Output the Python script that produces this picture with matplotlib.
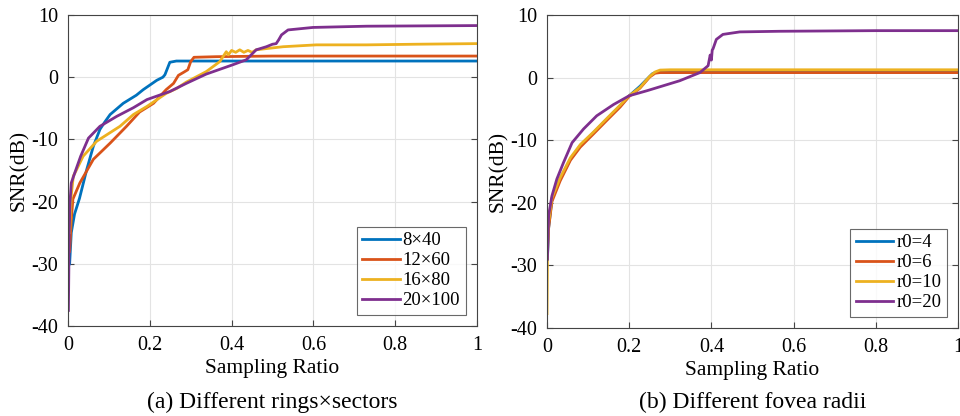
import matplotlib.pyplot as plt

plt.rcParams['font.family'] = ['Liberation Serif', 'DejaVu Serif']
plt.rcParams['axes.unicode_minus'] = False

colors = ['#0072BD', '#D95319', '#EDB120', '#7E2F8E']

# (a) different rings x sectors
a_labels = ['8×40', '12×60', '16×80', '20×100']
a_x_8x40 = [0.004, 0.008, 0.016, 0.028, 0.046, 0.062, 0.078, 0.09, 0.103, 0.135, 0.167, 0.184,
            0.217, 0.232, 0.237, 0.249, 0.265, 0.4, 0.6, 0.8, 1.0]
a_y_8x40 = [-30, -25, -22, -19.5, -14.8, -11.1, -8.4, -7.2, -6.0, -4.2, -2.9, -2.0,
            -0.5, 0.0, 0.4, 2.4, 2.6, 2.6, 2.6, 2.6, 2.6]
a_x_12x60 = [0.004, 0.008, 0.012, 0.029, 0.062, 0.103, 0.143, 0.175, 0.209, 0.24, 0.258, 0.27,
             0.283, 0.293, 0.3, 0.308, 0.363, 0.5, 0.7, 1.0]
a_y_12x60 = [-28, -23, -19.6, -17.0, -13.2, -10.6, -7.9, -5.6, -4.2, -2.0, -1.0, 0.3,
             0.8, 1.2, 2.5, 3.2, 3.3, 3.4, 3.4, 3.4]
a_x_16x80 = [0.004, 0.008, 0.013, 0.02, 0.037, 0.07, 0.127, 0.16, 0.193, 0.24, 0.266, 0.289,
             0.338, 0.371, 0.38, 0.387, 0.392, 0.4, 0.41, 0.42, 0.43, 0.44, 0.45, 0.46,
             0.485, 0.526, 0.607, 0.73, 0.85, 1.0]
a_y_16x80 = [-25, -19, -15.9, -15.0, -12.7, -10.3, -7.9, -6.0, -4.7, -2.6, -1.8, -0.8,
             0.9, 2.5, 3.4, 4.1, 3.6, 4.3, 4.0, 4.4, 4.0, 4.3, 4.0, 4.4,
             4.6, 4.9, 5.2, 5.2, 5.3, 5.4]
a_x_20x100 = [0.001, 0.003, 0.005, 0.008, 0.017, 0.031, 0.05, 0.078, 0.119, 0.16, 0.193, 0.249,
              0.289, 0.338, 0.403, 0.436, 0.46, 0.485, 0.5, 0.509, 0.515, 0.522, 0.538, 0.599,
              0.73, 1.0]
a_y_20x100 = [-37.5, -25, -20, -17, -15.3, -12.7, -9.8, -7.9, -6.3, -4.9, -3.6, -2.3,
              -1.0, 0.5, 2.0, 2.8, 4.4, 4.9, 5.3, 5.4, 6.0, 6.8, 7.6, 8.0,
              8.2, 8.3]

# (b) different fovea radii
b_labels = ['r0=4', 'r0=6', 'r0=10', 'r0=20']
b_x_r4 = [0.001, 0.004, 0.012, 0.032, 0.057, 0.081, 0.113, 0.146, 0.178, 0.2, 0.226, 0.256,
          0.263, 0.275, 0.4, 0.7, 1.0]
b_y_r4 = [-29, -24, -19.4, -16.2, -13.0, -10.9, -8.8, -6.6, -4.5, -2.9, -1.4, 0.6,
          0.8, 0.9, 0.9, 0.9, 0.9]
b_x_r6 = [0.001, 0.004, 0.012, 0.032, 0.057, 0.081, 0.113, 0.146, 0.178, 0.2, 0.226, 0.25,
          0.263, 0.275, 0.4, 0.7, 1.0]
b_y_r6 = [-27, -24, -19.8, -16.5, -13.2, -11.1, -9.0, -6.8, -4.7, -3.0, -1.7, 0.1,
          0.7, 0.8, 0.8, 0.8, 0.8]
b_x_r10 = [0.0, 0.001, 0.004, 0.012, 0.032, 0.057, 0.081, 0.113, 0.146, 0.178, 0.2, 0.226,
           0.25, 0.263, 0.275, 0.3, 0.5, 1.0]
b_y_r10 = [-37.7, -29, -23, -19.2, -16.0, -12.8, -10.7, -8.7, -6.5, -4.4, -2.9, -1.6,
           0.2, 0.9, 1.2, 1.25, 1.25, 1.25]
b_x_r20 = [0.001, 0.004, 0.012, 0.024, 0.04, 0.061, 0.089, 0.121, 0.162, 0.2, 0.243, 0.283,
           0.323, 0.372, 0.392, 0.397, 0.4, 0.402, 0.404, 0.412, 0.428, 0.469, 0.566, 0.8, 1.0]
b_y_r20 = [-29, -22, -18.9, -16.2, -13.6, -10.4, -8.2, -6.1, -4.3, -2.9, -2.1, -1.3,
           -0.5, 0.8, 1.9, 3.6, 2.8, 4.4, 4.6, 6.1, 6.9, 7.3, 7.4, 7.5, 7.5]

a_series = [(a_x_8x40, a_y_8x40), (a_x_12x60, a_y_12x60),
            (a_x_16x80, a_y_16x80), (a_x_20x100, a_y_20x100)]
b_series = [(b_x_r4, b_y_r4), (b_x_r6, b_y_r6), (b_x_r10, b_y_r10), (b_x_r20, b_y_r20)]

fig = plt.figure(figsize=(9.6, 4.16), dpi=100)
ax1 = fig.add_axes([68 / 960, 90 / 416, 409 / 960, 311 / 416])
ax2 = fig.add_axes([547 / 960, 88 / 416, 411 / 960, 313 / 416])


def style(ax, series, labels, caption):
    for (x, y), c, lab in zip(series, colors, labels):
        ax.plot(x, y, color=c, lw=2, label=lab)
    ax.set_xlim(0, 1)
    ax.set_ylim(-40, 10)
    ax.set_xticks([0, 0.2, 0.4, 0.6, 0.8, 1])
    ax.set_xticklabels(['0', '0.2', '0.4', '0.6', '0.8', '1'])
    ax.set_yticks([-40, -30, -20, -10, 0, 10])
    ax.grid(True, color='#e3e3e3', lw=0.8)
    ax.set_axisbelow(True)
    ax.tick_params(direction='in', labelsize=14.5, length=4, color='#444444', pad=7,
                   top=False, right=True)
    for s in ax.spines.values():
        s.set_color('#444444')
        s.set_linewidth(0.8)
    ax.set_xlabel('Sampling Ratio', fontsize=15.5, labelpad=3)
    ax.set_ylabel('SNR(dB)', fontsize=15.5, labelpad=2)
    leg = ax.legend(loc='lower right', fontsize=13.5, frameon=True, fancybox=False,
                    edgecolor='#444444', handlelength=2.0, handletextpad=0.15,
                    borderpad=0.3, labelspacing=0.15, borderaxespad=0.6)
    leg.get_frame().set_linewidth(0.8)
    bb = ax.get_position()
    fig.text((bb.x0 + bb.x1) / 2, 1 - 402 / 416, caption, ha='center', va='center',
             fontsize=17)


style(ax1, a_series, a_labels, '(a) Different rings×sectors')
style(ax2, b_series, b_labels, '(b) Different fovea radii')

fig.savefig('out.png', dpi=100)
